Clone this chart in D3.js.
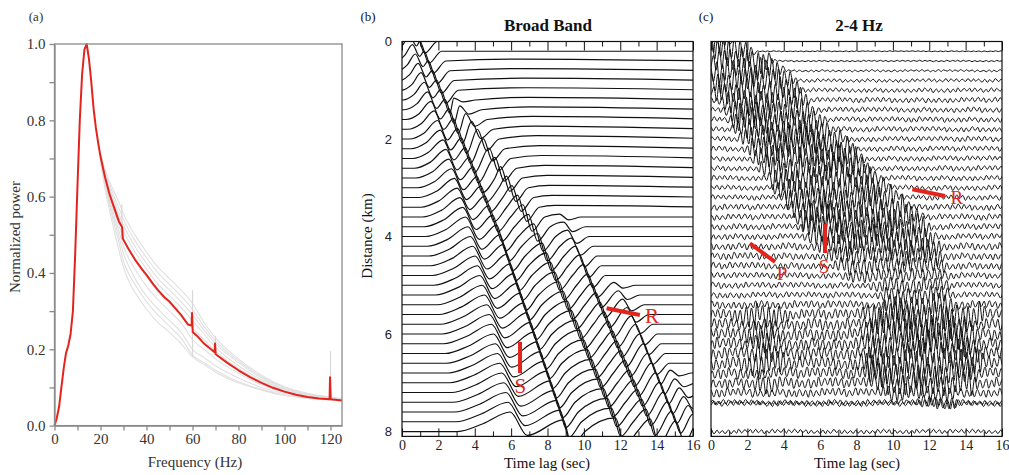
<!DOCTYPE html>
<html>
<head>
<meta charset="utf-8">
<script src="https://cdn.jsdelivr.net/npm/d3@7"></script>
<style>
  body { margin: 0; background: #fff; }
  svg { display: block; }
</style>
</head>
<body>
<svg id="fig" width="1009" height="475"></svg>
<script>
// ---------- (a) normalized power spectrum ----------
const specFreq = [0, 1, 2, 3, 4, 5, 6, 7, 8, 9, 10, 11, 12, 13, 14, 15, 16, 17, 18, 19, 20, 22, 24, 26, 28, 29.4, 29.7,
  32, 35, 38, 40, 43, 45, 48, 50, 55, 58, 59.6, 59.8, 60.1, 62, 65, 69.6, 69.8, 70.1, 75, 80, 85, 90, 95, 100, 105,
  110, 115, 119.6, 119.8, 120.1, 125];
const specPower = [0, 0.02, 0.05, 0.1, 0.15, 0.19, 0.21, 0.24, 0.3, 0.45, 0.63, 0.8, 0.92, 0.985, 1.0, 0.96, 0.9, 0.83,
  0.78, 0.74, 0.705, 0.65, 0.605, 0.57, 0.535, 0.52, 0.49, 0.465, 0.435, 0.41, 0.395, 0.37, 0.355, 0.335, 0.325, 0.29,
  0.265, 0.262, 0.295, 0.245, 0.235, 0.215, 0.192, 0.215, 0.187, 0.165, 0.145, 0.127, 0.112, 0.099, 0.089, 0.081,
  0.075, 0.071, 0.069, 0.127, 0.069, 0.066];

// single-station spectra (grey), read on a coarse grid
const stationFreq = [20, 22, 25, 28, 30, 33, 36, 40, 45, 50, 55, 60, 65, 70, 80, 90, 100, 110, 120, 125];
const stationPower = [
  [0.7, 0.63, 0.55, 0.48, 0.43, 0.39, 0.36, 0.325, 0.29, 0.26, 0.23, 0.185, 0.165, 0.145, 0.115, 0.095, 0.08, 0.072, 0.068, 0.066],
  [0.69, 0.62, 0.535, 0.46, 0.415, 0.37, 0.34, 0.305, 0.27, 0.245, 0.215, 0.18, 0.16, 0.14, 0.112, 0.093, 0.079, 0.071, 0.067, 0.065],
  [0.7, 0.635, 0.56, 0.495, 0.45, 0.41, 0.375, 0.34, 0.305, 0.275, 0.245, 0.2, 0.178, 0.157, 0.125, 0.1, 0.084, 0.074, 0.069, 0.066],
  [0.7, 0.64, 0.57, 0.51, 0.47, 0.43, 0.4, 0.365, 0.33, 0.3, 0.27, 0.225, 0.2, 0.175, 0.137, 0.107, 0.087, 0.076, 0.07, 0.067],
  [0.705, 0.645, 0.58, 0.525, 0.49, 0.455, 0.425, 0.39, 0.35, 0.32, 0.29, 0.255, 0.225, 0.195, 0.15, 0.116, 0.093, 0.079, 0.071, 0.068],
  [0.705, 0.655, 0.595, 0.545, 0.51, 0.475, 0.445, 0.41, 0.37, 0.34, 0.31, 0.275, 0.24, 0.205, 0.157, 0.12, 0.095, 0.08, 0.072, 0.068],
  [0.71, 0.66, 0.605, 0.555, 0.525, 0.49, 0.46, 0.425, 0.385, 0.355, 0.325, 0.29, 0.25, 0.215, 0.165, 0.125, 0.098, 0.082, 0.073, 0.069],
  [0.71, 0.665, 0.615, 0.57, 0.54, 0.505, 0.475, 0.44, 0.4, 0.37, 0.34, 0.305, 0.26, 0.222, 0.17, 0.128, 0.1, 0.083, 0.074, 0.069],
  [0.715, 0.67, 0.625, 0.585, 0.555, 0.52, 0.49, 0.455, 0.415, 0.385, 0.355, 0.32, 0.27, 0.23, 0.175, 0.132, 0.102, 0.085, 0.075, 0.07]
];
// narrow spectral lines in the grey spectra: [freq, low, high]
const stationSpikes = [[29.3, 0.49, 0.58], [60, 0.18, 0.355], [70, 0.185, 0.235], [120, 0.07, 0.195]];

// ---------- (b) broad band gathers ----------
const distExtent = [0, 8.1];
const traceDistB = [0, 0.2, 0.4, 0.6, 0.8, 1.0, 1.2, 1.4, 1.6, 1.8, 2.0, 2.2, 2.4, 2.6, 2.8, 3.0, 3.2, 3.4, 3.6, 3.8,
  4.0, 4.2, 4.4, 4.6, 4.8, 5.0, 5.2, 5.4, 5.6, 5.8, 6.0, 6.2, 6.4, 6.6, 6.8, 7.0, 7.2, 7.4, 7.6, 7.8, 8.0];
// picked events: [distance km, time s, amplitude in trace spacings]
const onsetB = [[0, -0.5, 0], [2, 0.4, 0], [4, 1.3, 0], [6, 2.2, 0], [8.1, 3.1, 0]];
const rampB = [[0, -0.1, 0.6], [2, 1.2, 0.6], [4, 2.4, 0.7], [6, 3.5, 0.8], [8.1, 4.5, 0.8]];
const humpB = [[0, 0.25, 1.6], [1, 1.05, 1.8], [2, 1.95, 1.9], [4, 3.5, 2.0], [6, 4.8, 2.0], [8.1, 6.0, 2.0]];
const humpTroughB = [[0, 0.62, 0.6], [1, 1.5, 0.3], [2, 2.5, -0.1], [4, 4.25, -0.3], [6, 5.65, -0.4], [8.1, 6.95, -0.4]];
const lateBumpB = [[0.4, 6.5, 0.2], [2, 7.4, 0.35], [3.4, 8.4, 0.2]];
// steep moveout lines: [distance km, time of the down-swing s, peak, trough]
const line1B = [[0, 1.0, 1.0, -1.2], [2, 3.3, 1.1, -1.5], [4, 5.45, 1.2, -1.5], [6, 7.3, 1.2, -1.6], [8.1, 9.2, 1.2, -1.6]];
const line2B = [[1.2, 3.1, 0.2, -0.2], [2, 4.4, 1.0, -1.2], [3, 6.0, 1.2, -1.4], [4, 7.5, 1.3, -1.5], [6, 9.8, 1.4, -1.5], [8.1, 12.1, 1.4, -1.5]];
const line3B = [[3.5, 8.8, 0.2, -0.2], [4.5, 9.9, 1.1, -1.2], [6, 11.6, 1.3, -1.4], [8.1, 14.0, 1.3, -1.4]];
const line4B = [[5.0, 11.9, 0.3, -0.3], [6, 13.1, 1.0, -1.1], [8.1, 15.4, 1.1, -1.2]];
const line5B = [[6.8, 15.0, 0.3, -0.3], [8.1, 16.6, 0.9, -1.0]];
// phase picks: label, line from (t, d) to (t, d), label at (t, d)
const picksB = [["S", 6.49, 6.16, 6.49, 6.8, 6.5, 7.2], ["R", 11.25, 5.47, 13.08, 5.61, 13.75, 5.77]];

// ---------- (c) 2-4 Hz gathers ----------
const traceDistC = [0, 0.2, 0.4, 0.6, 0.8, 1.0, 1.2, 1.4, 1.6, 1.8, 2.0, 2.2, 2.4, 2.6, 2.8, 3.0, 3.2, 3.4, 3.6, 3.8,
  4.0, 4.2, 4.4, 4.6, 4.8, 5.0, 5.2, 5.4, 5.6, 5.8, 6.0, 6.2, 6.4, 6.6, 6.8, 7.0, 7.2, 7.4, 7.43, 8.0];
// main energy window per trace
const bandStartC = [-0.5, -0.5, -0.5, -0.5, -0.5, -0.3, 0.2, 0.5, 0.8, 1.0, 1.3, 1.7, 2.0, 2.4, 2.8, 3.2, 3.6, 4.0, 4.4, 4.7,
  5.0, 5.5, 6.0, 6.5, 7.0, 8.5, 9.0, 9.2, 8.0, 8.5, 8.0, 8.0, 8.2, 7.8, 8.0, 8.5, 9.0, 11.0, 11.0, 0];
const bandEndC = [1.2, 2.6, 3.6, 4.2, 4.8, 5.2, 5.6, 6.0, 6.5, 7.0, 7.6, 8.2, 8.6, 9.0, 9.5, 10.0, 10.6, 11.2, 11.8, 12.3,
  12.6, 13.0, 13.2, 13.3, 13.4, 13.5, 13.5, 13.8, 15.5, 14.5, 15.0, 15.0, 15.0, 15.5, 15.0, 15.0, 14.0, 14.0, 14.0, 0];
const bandAmpC = [1.4, 1.4, 1.4, 1.4, 1.4, 1.4, 1.4, 1.4, 1.4, 1.4, 1.4, 1.4, 1.4, 1.4, 1.4, 1.4, 1.4, 1.4, 1.4, 1.4,
  1.4, 1.2, 1.0, 0.9, 0.7, 0.8, 1.0, 1.2, 1.4, 1.4, 1.4, 1.3, 1.3, 1.4, 1.3, 1.2, 0.8, 0.7, 0.5, 0];
// early energy on the far traces
const band2StartC = [0, 0, 0, 0, 0, 0, 0, 0, 0, 0, 0, 0, 0, 0, 0, 0, 0, 0, 0, 0,
  0, 0, 0, 0, 0, 0, 0, 0, 1.0, 0, 1.5, 2.0, 1.8, 1.5, 0, 2.0, 0, 0, 0, 0];
const band2EndC = [0, 0, 0, 0, 0, 0, 0, 0, 0, 0, 0, 0, 0, 0, 0, 0, 0, 0, 0, 0,
  0, 0, 0, 0, 0, 0, 0, 0, 4.5, 0, 4.0, 4.2, 4.0, 4.5, 0, 4.0, 0, 0, 0, 0];
const band2AmpC = [0, 0, 0, 0, 0, 0, 0, 0, 0, 0, 0, 0, 0, 0, 0, 0, 0, 0, 0, 0,
  0, 0, 0, 0, 0, 0, 0, 0, 1.2, 0, 1.0, 1.3, 1.2, 1.3, 0, 1.0, 0, 0, 0, 0];
const noiseAmpC = [0, 0.05, 0.08, 0.12, 0.2, 0.25, 0.3, 0.3, 0.3, 0.3, 0.3, 0.3, 0.3, 0.3, 0.3, 0.3, 0.3, 0.35, 0.35, 0.35,
  0.35, 0.4, 0.4, 0.4, 0.35, 0.35, 0.35, 0.45, 0.6, 0.65, 0.7, 0.7, 0.7, 0.7, 0.65, 0.6, 0.5, 0.3, 0.3, 0.25];
// half-cycle peak sizes and durations (s) of the band-passed wiggle
const wiggleC = [0.62, 0.95, 0.48, 0.81, 1.0, 0.57, 0.73, 0.39, 0.88, 0.66, 0.92, 0.45, 0.7, 0.99, 0.54, 0.77, 0.35, 0.84,
  0.61, 0.93, 0.5, 0.72, 0.87, 0.42, 0.68, 0.97, 0.58, 0.8, 0.37, 0.9, 0.64, 0.75, 0.47, 0.98, 0.55, 0.83, 0.4, 0.69,
  0.91, 0.52, 0.78, 0.33, 0.86, 0.6, 0.94, 0.49, 0.74, 0.89, 0.44, 0.67, 0.96, 0.56, 0.79, 0.36, 0.85, 0.63, 0.71, 0.46,
  1.0, 0.53, 0.82, 0.41, 0.7, 0.9];
const halfPeriodC = [0.15, 0.12, 0.17, 0.14, 0.19, 0.13, 0.16, 0.11, 0.18, 0.15, 0.13, 0.2, 0.14, 0.16, 0.12, 0.17,
  0.15, 0.19, 0.13, 0.14, 0.18, 0.12, 0.16, 0.15, 0.2, 0.13, 0.17, 0.14, 0.11, 0.16, 0.19, 0.15];
const picksC = [["R", 11.07, 3.03, 12.86, 3.17, 13.52, 3.33], ["S", 6.27, 3.74, 6.27, 4.34, 6.21, 4.75],
  ["P", 2.14, 4.14, 3.52, 4.52, 3.9, 4.89]];

const timeTicks = [0, 2, 4, 6, 8, 10, 12, 14, 16];
const distTicks = [0, 2, 4, 6, 8];

const serif = '"Liberation Serif", "Times New Roman", serif';
const sans = '"Liberation Sans", Arial, sans-serif';
const red = "#e3241d";

const svg = d3.select("#fig");

function label(x, y, text, size, opts = {}) {
  const t = svg.append("text")
    .attr("x", x).attr("y", y)
    .attr("text-anchor", opts.anchor || "middle")
    .style("font-family", opts.family || serif)
    .style("font-size", size + "px")
    .style("font-weight", opts.bold ? "bold" : "normal")
    .attr("fill", opts.color || "#111")
    .text(text);
  if (opts.rotate) t.attr("transform", `rotate(-90,${x},${y})`);
  return t;
}

// ================= panel (a) =================
const xA = d3.scaleLinear().domain([0, 125]).range([54.5, 342]);
const yA = d3.scaleLinear().domain([0, 1]).range([425.6, 44]);
const gA = svg.append("g");
const axisGrey = "#8a8a8a";

const lineA = d3.line().x(d => xA(d[0])).y(d => yA(d[1])).curve(d3.curveMonotoneX);
stationPower.forEach(p => {
  gA.append("path")
    .attr("d", lineA(stationFreq.map((f, i) => [f, p[i]])))
    .attr("fill", "none").attr("stroke", "#e0e0e0").attr("stroke-width", 1.1);
});
stationSpikes.forEach(([f, lo, hi]) => {
  gA.append("line")
    .attr("x1", xA(f)).attr("x2", xA(f)).attr("y1", yA(lo)).attr("y2", yA(hi))
    .attr("stroke", "#d8d8d8").attr("stroke-width", 1.2);
});
gA.append("path")
  .attr("d", d3.line().x(d => xA(d[0])).y(d => yA(d[1]))(specFreq.map((f, i) => [f, specPower[i]])))
  .attr("fill", "none").attr("stroke", red).attr("stroke-width", 2).attr("stroke-linejoin", "round");

gA.append("rect")
  .attr("x", xA(0)).attr("y", yA(1)).attr("width", xA(125) - xA(0)).attr("height", yA(0) - yA(1))
  .attr("fill", "none").attr("stroke", axisGrey).attr("stroke-width", 1.3);

const axA = gA.append("g").attr("transform", `translate(0,${yA(0)})`)
  .call(d3.axisBottom(xA).tickValues(d3.range(0, 121, 10)).tickSize(5).tickSizeOuter(0).tickPadding(3)
    .tickFormat(d => d % 20 === 0 ? d : ""));
const ayA = gA.append("g").attr("transform", `translate(${xA(0)},0)`)
  .call(d3.axisLeft(yA).tickValues(d3.range(0, 1.01, 0.1)).tickSize(5).tickSizeOuter(0).tickPadding(4)
    .tickFormat(d => Math.round(d * 10) % 2 === 0 ? d3.format(".1f")(d) : ""));
[axA, ayA].forEach(a => {
  a.selectAll("path, line").attr("stroke", axisGrey).attr("stroke-width", 1.3);
  a.selectAll("text").style("font-family", serif).style("font-size", "15px").attr("fill", "#333");
});
label(36, 21, "(a)", 13, { color: "#333" });
label(195, 467, "Frequency (Hz)", 15, { color: "#333" });
label(20, 237, "Normalized power", 15, { rotate: true, color: "#333" });

// ================= shared for (b) and (c) =================
function knotAt(knots, d) {
  const ds = knots.map(k => k[0]);
  if (d < ds[0] - 1e-9 || d > ds[ds.length - 1] + 1e-9) return null;
  return knots[0].slice(1).map((_, j) =>
    d3.scaleLinear().domain(ds).range(knots.map(k => k[j + 1])).clamp(true)(d));
}

function addClip(id, x, y) {
  svg.append("clipPath").attr("id", id).append("rect")
    .attr("x", x(0)).attr("y", y(0)).attr("width", x(16) - x(0)).attr("height", y(distExtent[1]) - y(0));
}

function frame(g, x, y, withLeftLabels) {
  const x0 = x.range()[0], x1 = x.range()[1], y0 = y.range()[0], y1 = y.range()[1];
  const top = g.append("g").attr("transform", `translate(0,${y0})`);
  top.append("g").call(d3.axisTop(x).tickValues(d3.range(1, 16, 2)).tickSize(-5).tickSizeOuter(0).tickFormat(""));
  top.append("g").call(d3.axisTop(x).tickValues(timeTicks).tickSize(-9).tickSizeOuter(0).tickFormat(""));
  const bot = g.append("g").attr("transform", `translate(0,${y1})`);
  bot.append("g").call(d3.axisBottom(x).tickValues(d3.range(1, 16, 2)).tickSize(-5).tickSizeOuter(0).tickFormat(""));
  bot.append("g").call(d3.axisBottom(x).tickValues(timeTicks).tickSize(-8).tickSizeOuter(0).tickPadding(4))
    .selectAll("text").style("font-family", serif).style("font-size", "14px").attr("fill", "#222");
  if (withLeftLabels) {
    g.append("g").attr("transform", `translate(${x0},0)`)
      .call(d3.axisLeft(y).tickValues(distTicks).tickSize(0).tickPadding(10))
      .selectAll("text").style("font-family", sans).style("font-size", "13px").attr("fill", "#222");
  }
  g.selectAll(".domain").attr("stroke", "none");
  g.selectAll(".tick line").attr("stroke", "#111");
  g.append("rect").attr("x", x0).attr("y", y0).attr("width", x1 - x0).attr("height", y1 - y0)
    .attr("fill", "none").attr("stroke", "#111").attr("stroke-width", 1.2);
}

function drawPicks(g, x, y, picks, size) {
  picks.forEach(([name, t0, d0, t1, d1, tt, dt]) => {
    g.append("line").attr("x1", x(t0)).attr("y1", y(d0)).attr("x2", x(t1)).attr("y2", y(d1))
      .attr("stroke", red).attr("stroke-width", 4);
    g.append("text").attr("x", x(tt)).attr("y", y(dt)).attr("text-anchor", "middle")
      .style("font-family", serif).style("font-size", size + "px").attr("fill", red).text(name);
  });
}

const traceLine = d3.line().curve(d3.curveMonotoneX);

// ================= panel (b) =================
const xB = d3.scaleLinear().domain([0, 16]).range([402, 693]);
const yB = d3.scaleLinear().domain(distExtent).range([41.5, 436.4]);
const unitB = yB(0.2) - yB(0);
const gB = svg.append("g");
addClip("clipB", xB, yB);

const pointPhasesB = [onsetB, rampB, humpB, humpTroughB, lateBumpB];
const swingPhasesB = [line1B, line2B, line3B, line4B, line5B];
const halfSwing = 0.25;

const gTracesB = gB.append("g").attr("clip-path", "url(#clipB)");
traceDistB.forEach(d => {
  let ev = [];
  pointPhasesB.forEach(ph => {
    const k = knotAt(ph, d);
    if (k) ev.push({ t: k[0], v: k[1] });
  });
  swingPhasesB.forEach(ph => {
    const k = knotAt(ph, d);
    if (k) {
      ev.push({ t: k[0] - halfSwing, v: k[1] });
      ev.push({ t: k[0] + halfSwing, v: k[2], trough: true });
    }
  });
  ev.sort((a, b) => a.t - b.t);
  const pts = [{ t: -1.5, v: 0 }];
  ev.forEach((e, i) => {
    pts.push(e);
    const next = ev[i + 1];
    if (e.trough && (!next || next.t - e.t > 1.0)) pts.push({ t: e.t + 0.7, v: 0 });
  });
  pts.push({ t: 17.5, v: 0 });
  gTracesB.append("path")
    .attr("d", traceLine(pts.map(p => [xB(p.t), yB(d) - p.v * unitB])))
    .attr("fill", "none").attr("stroke", "#111").attr("stroke-width", 1.2);
});
frame(gB, xB, yB, true);
drawPicks(gB, xB, yB, picksB, 21);
label(368, 21, "(b)", 13);
label(548, 31, "Broad Band", 17, { bold: true });
label(547, 468, "Time lag (sec)", 15);
label(372, 236, "Distance (km)", 15, { rotate: true });

// ================= panel (c) =================
const xC = d3.scaleLinear().domain([0, 16]).range([711, 1002]);
const yC = d3.scaleLinear().domain(distExtent).range([41.5, 436.4]);
const unitC = yC(0.2) - yC(0);
const gC = svg.append("g");
addClip("clipC", xC, yC);
const gTracesC = gC.append("g").attr("clip-path", "url(#clipC)");

function windowTaper(s, e) {
  if (!(e > s)) return () => 0;
  const ramp = Math.min(0.7, Math.max(0.01, (e - s) / 3));
  return d3.scaleLinear().domain([s, s + ramp, e - ramp, e]).range([0, 1, 1, 0]).clamp(true);
}

traceDistC.forEach((d, i) => {
  const taper1 = windowTaper(bandStartC[i], bandEndC[i]);
  const taper2 = windowTaper(band2StartC[i], band2EndC[i]);
  const off = (i * 23) % wiggleC.length;
  const offP = (i * 7) % halfPeriodC.length;
  const pts = [];
  let t = -0.3 + (i % 3) * 0.07;
  for (let k = 0; t <= 16.4; k++) {
    const env = Math.hypot(noiseAmpC[i], bandAmpC[i] * taper1(t), band2AmpC[i] * taper2(t));
    const v = (k % 2 ? -1 : 1) * wiggleC[(k + off) % wiggleC.length] * env;
    pts.push([xC(t), yC(d) - v * unitC]);
    t += halfPeriodC[(k + offP) % halfPeriodC.length];
  }
  gTracesC.append("path")
    .attr("d", traceLine(pts))
    .attr("fill", "none").attr("stroke", "#111").attr("stroke-width", 1);
});
frame(gC, xC, yC, false);
drawPicks(gC, xC, yC, picksC, 19);
label(706, 21, "(c)", 13);
label(859, 31, "2-4 Hz", 17, { bold: true });
label(857, 468, "Time lag (sec)", 15);
</script>
</body>
</html>
